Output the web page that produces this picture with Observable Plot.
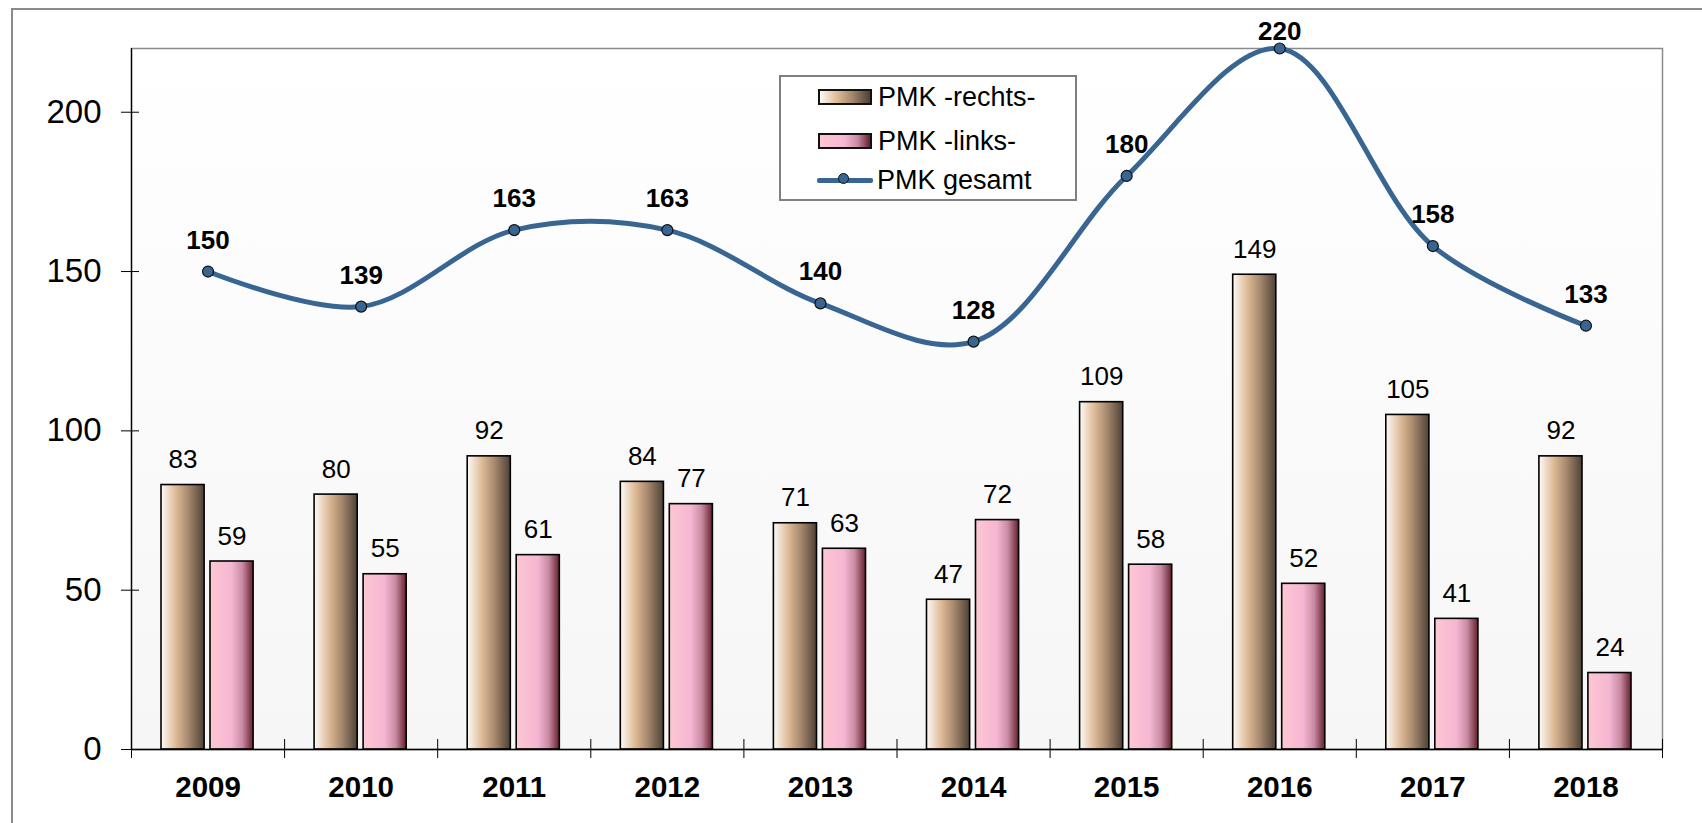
<!DOCTYPE html>
<html>
<head>
<meta charset="utf-8">
<script src="https://cdn.jsdelivr.net/npm/d3@7"></script>
<script src="https://cdn.jsdelivr.net/npm/@observablehq/plot@0.6"></script>
<style>
  html, body { margin: 0; padding: 0; background: #fff; overflow: hidden; }
  #wrap { position: relative; width: 1702px; height: 823px; font-family: "Liberation Sans", Arial, sans-serif; }
  #frame { position: absolute; left: 11px; top: 8px; width: 1800px; height: 900px; border-left: 2px solid #8a8a8a; border-top: 2px solid #8a8a8a; pointer-events: none; }
  #legend { position: absolute; left: 779px; top: 75px; width: 294px; height: 122px; border: 2px solid #808080; background: #fff; box-sizing: content-box; }
  .row { position: absolute; left: 37px; height: 30px; display: flex; align-items: center; font-size: 27px; color: #000; }
  .sw { width: 50px; height: 12px; border: 2px solid #111; margin-right: 6px; }
  .ln { position: relative; width: 56px; height: 5px; background: #386591; margin-right: 4px; border-radius: 2px; }
  .ln::after { content: ""; position: absolute; left: 21px; top: -5px; width: 11px; height: 11px; border-radius: 50%; background: #386591; border: 1px solid #111; box-sizing: border-box; }
</style>
</head>
<body>
<div id="wrap">
  <div id="chart"></div>
  <div id="frame"></div>
  <div id="legend"></div>
</div>
<script>
const years = [2009, 2010, 2011, 2012, 2013, 2014, 2015, 2016, 2017, 2018];
const rechts = [83, 80, 92, 84, 71, 47, 109, 149, 105, 92];
const links = [59, 55, 61, 77, 63, 72, 58, 52, 41, 24];
const gesamt = [150, 139, 163, 163, 140, 128, 180, 220, 158, 133];
const yTicks = [0, 50, 100, 150, 200];
const seriesNames = ["PMK -rechts-", "PMK -links-", "PMK gesamt"];

const data = years.map((y, i) => ({year: y, rechts: rechts[i], links: links[i], gesamt: gesamt[i]}));
const boundaries = [...years.map(y => y - 0.5), years[years.length - 1] + 0.5];
const yMax = 220;

const font = "'Liberation Sans', Arial, sans-serif";
const lineColor = "#386591";

const svg = Plot.plot({
  width: 1702,
  height: 823,
  marginLeft: 131,
  marginRight: 40,
  marginTop: 48,
  marginBottom: 74,
  style: {fontFamily: font, background: "transparent", overflow: "visible"},
  x: {type: "linear", domain: [boundaries[0], boundaries[boundaries.length - 1]], axis: null},
  y: {domain: [0, yMax], axis: null},
  marks: [
    Plot.frame({fill: "url(#bgGrad)", stroke: "#8a8a8a", strokeWidth: 1.5}),
    Plot.rectY(data, {x1: d => d.year - 0.5, x2: d => d.year + 0.5, y: "rechts", insetLeft: 30, insetRight: 80, fill: "url(#gradR)", stroke: "#000", strokeWidth: 1.6}),
    Plot.rectY(data, {x1: d => d.year - 0.5, x2: d => d.year + 0.5, y: "links", insetLeft: 79, insetRight: 31, fill: "url(#gradL)", stroke: "#000", strokeWidth: 1.6}),
    Plot.text(data, {x: "year", y: "rechts", text: d => String(d.rechts), dx: -25, dy: -17, lineAnchor: "bottom", fontSize: 26, fill: "#000"}),
    Plot.text(data, {x: "year", y: "links", text: d => String(d.links), dx: 24, dy: -17, lineAnchor: "bottom", fontSize: 26, fill: "#000"}),
    Plot.ruleX([boundaries[0]], {stroke: "#000", strokeWidth: 1.3}),
    Plot.ruleY([0], {stroke: "#000", strokeWidth: 1.3}),
    Plot.line(data, {x: "year", y: "gesamt", curve: "catmull-rom", stroke: lineColor, strokeWidth: 5, strokeLinecap: "round"}),
    Plot.dot(data, {x: "year", y: "gesamt", r: 5.5, fill: lineColor, stroke: "#111", strokeWidth: 1.2}),
    Plot.text(data.filter(d => d.gesamt < yMax), {x: "year", y: "gesamt", text: d => String(d.gesamt), dy: -23, lineAnchor: "bottom", fontSize: 26, fontWeight: "bold", fill: "#000"}),
    Plot.text(data.filter(d => d.gesamt >= yMax), {x: "year", y: "gesamt", text: d => String(d.gesamt), dy: -9, lineAnchor: "bottom", fontSize: 26, fontWeight: "bold", fill: "#000"}),
    // y axis: labels and crossing ticks
    Plot.axisY(yTicks, {anchor: "left", tickSize: 0, tickPadding: 30, fontSize: 33, tickFormat: d => String(d), label: null}),
    Plot.axisY(yTicks, {anchor: "left", tickSize: 18, dx: 8, tickFormat: () => "", label: null, stroke: "#000"}),
    // x axis: category labels and boundary ticks
    Plot.axisX(years, {anchor: "bottom", tickSize: 0, tickPadding: 27, fontSize: 29.5, fontWeight: "bold", tickFormat: d => String(d), label: null}),
    Plot.axisX(boundaries, {anchor: "bottom", tickSize: 19, dy: -10, tickFormat: () => "", label: null, stroke: "#000"})
  ]
});

// gradient definitions for the fills
const defs = d3.select(svg).insert("defs", ":first-child");
function grad(id, stops, vertical) {
  const g = defs.append("linearGradient").attr("id", id)
    .attr("x1", 0).attr("y1", 0).attr("x2", vertical ? 0 : 1).attr("y2", vertical ? 1 : 0);
  stops.forEach(([o, c]) => g.append("stop").attr("offset", o).attr("stop-color", c));
}
grad("gradR", [[0, "#fdfaf6"], [0.35, "#ddb995"], [0.65, "#a3866c"], [1, "#4e4136"]]);
grad("gradL", [[0, "#fdc7d2"], [0.5, "#f5b6d3"], [0.75, "#c98aa3"], [1, "#66202d"]]);
grad("bgGrad", [[0, "#ffffff"], [1, "#f6f6f6"]], true);

document.getElementById("chart").appendChild(svg);

// legend
const legend = document.getElementById("legend");
const rows = [
  {name: seriesNames[0], kind: "sw", bg: "linear-gradient(to right, #fdfaf6, #ddb995 35%, #a3866c 65%, #4e4136)"},
  {name: seriesNames[1], kind: "sw", bg: "linear-gradient(to right, #fdc7d2, #f5b6d3 50%, #c98aa3 75%, #66202d)"},
  {name: seriesNames[2], kind: "ln"}
];
const tops = [5, 49, 88];
rows.forEach((r, i) => {
  const row = document.createElement("div");
  row.className = "row";
  row.style.top = tops[i] + "px";
  row.style.left = r.kind === "ln" ? "36px" : "37px";
  const s = document.createElement("div");
  s.className = r.kind;
  if (r.bg) s.style.background = r.bg;
  row.appendChild(s);
  const t = document.createElement("span");
  t.textContent = r.name;
  row.appendChild(t);
  legend.appendChild(row);
});
</script>
</body>
</html>
